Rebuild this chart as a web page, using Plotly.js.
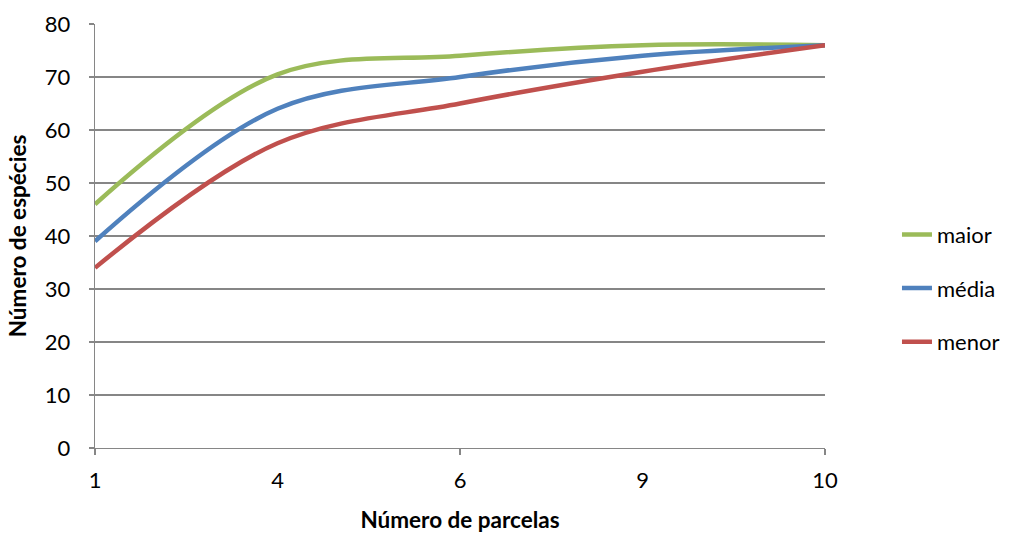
<!DOCTYPE html>
<html>
<head>
<meta charset="utf-8">
<script src="https://cdn.plot.ly/plotly-3.0.1.min.js"></script>
<style>html,body{margin:0;padding:0;background:#fff;}#chart{width:1011px;height:533px;}</style>
</head>
<body>
<div id="chart"></div>
<script>
var categories = ['1', '4', '6', '9', '10'];
var maior = [46, 70.5, 74, 76, 76];
var media = [39, 64, 70, 74, 76];
var menor = [34, 57.5, 65, 71, 76];
var seriesNames = ['maior', 'média', 'menor'];
var yTicks = [0, 10, 20, 30, 40, 50, 60, 70, 80];

var colors = ['#9BBB59', '#4F81BD', '#C0504D'];
var allSeries = [maior, media, menor];
var traces = allSeries.map(function (vals, i) {
  return {
    x: categories, y: vals, type: 'scatter', mode: 'lines',
    name: seriesNames[i], legendgroup: 'g' + i,
    line: {color: colors[i], width: 4.5, shape: 'spline', smoothing: 1},
    hoverinfo: 'x+y'
  };
});
// helper trace so the tick-mark axis gets drawn
traces.push({x: [0], y: [0], xaxis: 'x2', yaxis: 'y', mode: 'none', type: 'scatter', showlegend: false, hoverinfo: 'skip'});

var fam = 'Lato, "Open Sans", sans-serif';
var font = {family: fam, size: 22, color: '#000'};
var titleFont = {family: fam, size: 22.5, color: '#000', weight: 'bold'};
var layout = {
  width: 1011, height: 533,
  margin: {l: 95, r: 186, t: 24, b: 85, pad: 0, autoexpand: false},
  paper_bgcolor: '#fff', plot_bgcolor: '#fff',
  font: font,
  showlegend: true,
  legend: {x: 1.0986, xanchor: 'left', y: 0.377, yanchor: 'middle', font: font, tracegroupgap: 22, bgcolor: 'rgba(0,0,0,0)'},
  xaxis: {
    type: 'category', range: [0, 4], showgrid: false, zeroline: false,
    showline: true, linecolor: '#868686', linewidth: 1.3,
    ticks: '', tickfont: font, fixedrange: true, ticklabelstandoff: 12,
    title: {text: 'Número de parcelas', font: titleFont, standoff: 22}
  },
  xaxis2: {
    overlaying: 'x', anchor: 'y', type: 'linear', range: [0, 4],
    tickvals: [0, 2, 4], showticklabels: false, ticks: 'outside', ticklen: 6,
    tickcolor: '#868686', tickwidth: 1.3, showgrid: false, zeroline: false, showline: false
  },
  yaxis: {
    range: [0, 80], tickvals: yTicks, showgrid: true, gridcolor: '#868686', gridwidth: 1.3,
    zeroline: false, showline: true, linecolor: '#868686', linewidth: 1.3,
    ticks: 'outside', ticklen: 5, tickcolor: '#868686', tickwidth: 1.3, tickfont: font,
    ticklabelstandoff: 14,
    title: {text: 'Número de espécies', font: titleFont, standoff: 12}
  }
};
Plotly.newPlot('chart', traces, layout, {displayModeBar: false, staticPlot: true});
</script>
</body>
</html>
